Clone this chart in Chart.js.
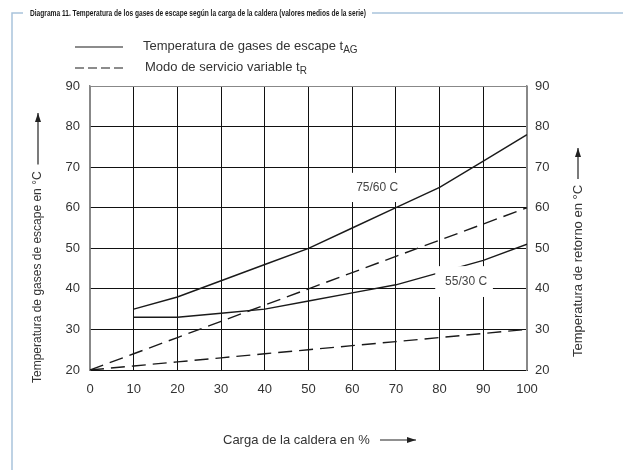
<!DOCTYPE html>
<html>
<head>
<meta charset="utf-8">
<script src="https://cdn.jsdelivr.net/npm/chart.js@4.4.1/dist/chart.umd.min.js"></script>
<style>
  html, body { margin: 0; padding: 0; background: #fff; }
  #wrap { width: 623px; height: 470px; position: relative; }
</style>
</head>
<body>
<div id="wrap"><canvas id="boilerChart"></canvas></div>
<script>
// Carga de la caldera (%)
var loadPct = [0, 10, 20, 30, 40, 50, 60, 70, 80, 90, 100];

// Temperatura de gases de escape tAG (solid)
var tag7560 = [null, 35, 38, 42, 46, 50, 55, 60, 65, 71.5, 78];
var tag5530 = [null, 33, 33, 34, 35, 37, 39, 41, 44, 47, 51];

// Modo de servicio variable tR (dashed)
var tr7560 = [20, 24, 28, 32, 36, 40, 44, 48, 52, 56, 60];
var tr5530 = [20, 21, 22, 23, 24, 25, 26, 27, 28, 29, 30];

// Axis ticks
var xTicks = [0, 10, 20, 30, 40, 50, 60, 70, 80, 90, 100];
var yTicks = [20, 30, 40, 50, 60, 70, 80, 90];

var FONT = '"Liberation Sans", Arial, sans-serif';
var TEXT = '#333';
var FRAME = '#a9c3dc';
var BORDER = '#888';

// Turn value arrays into {x, y} points
function toPoints(values) {
    var pts = [];
    for (var i = 0; i < loadPct.length; i++) {
        if (values[i] !== null) pts.push({ x: loadPct[i], y: values[i] });
    }
    return pts;
}

function lineSet(label, values, dashed) {
    return {
        label: label,
        data: toPoints(values),
        borderColor: '#1a1a1a',
        borderWidth: 1.4,
        borderDash: dashed ? [14, 7] : [],
        pointRadius: 0,
        tension: 0,
        fill: false
    };
}

// Draw a small text with subscript
function textWithSub(ctx, main, sub, x, y) {
    ctx.font = '13px ' + FONT;
    ctx.fillText(main, x, y);
    var w = ctx.measureText(main).width;
    ctx.font = '10px ' + FONT;
    ctx.fillText(sub, x + w, y + 4);
}

// Arrow: line from (x1,y1) to (x2,y2) with head at the end
function arrow(ctx, x1, y1, x2, y2) {
    var ang = Math.atan2(y2 - y1, x2 - x1);
    ctx.beginPath();
    ctx.moveTo(x1, y1);
    ctx.lineTo(x2, y2);
    ctx.stroke();
    ctx.beginPath();
    ctx.moveTo(x2, y2);
    ctx.lineTo(x2 - 9 * Math.cos(ang) + 3 * Math.sin(ang), y2 - 9 * Math.sin(ang) - 3 * Math.cos(ang));
    ctx.lineTo(x2 - 9 * Math.cos(ang) - 3 * Math.sin(ang), y2 - 9 * Math.sin(ang) + 3 * Math.cos(ang));
    ctx.closePath();
    ctx.fill();
}

var decorPlugin = {
    id: 'decor',
    beforeDraw: function (chart) {
        var ctx = chart.ctx;
        ctx.save();
        ctx.fillStyle = '#fff';
        ctx.fillRect(0, 0, chart.width, chart.height);

        // Frame and title
        ctx.strokeStyle = FRAME;
        ctx.lineWidth = 1.5;
        ctx.beginPath();
        ctx.moveTo(12, 470);
        ctx.lineTo(12, 13);
        ctx.lineTo(23, 13);
        ctx.moveTo(372, 13);
        ctx.lineTo(623, 13);
        ctx.stroke();

        ctx.fillStyle = '#1a1a1a';
        ctx.font = 'bold 9.5px "Liberation Sans Narrow", "Liberation Sans", sans-serif';
        ctx.textBaseline = 'middle';
        ctx.textAlign = 'left';
        var title = 'Diagrama 11. Temperatura de los gases de escape según la carga de la caldera (valores medios de la serie)';
        var tw = ctx.measureText(title).width;
        ctx.save();
        ctx.translate(30, 13);
        ctx.scale(336 / tw, 1);
        ctx.fillText(title, 0, 0);
        ctx.restore();

        // Legend
        ctx.strokeStyle = '#1a1a1a';
        ctx.lineWidth = 1.2;
        ctx.beginPath();
        ctx.moveTo(75, 47);
        ctx.lineTo(123, 47);
        ctx.stroke();
        ctx.setLineDash([9, 4]);
        ctx.beginPath();
        ctx.moveTo(75, 68);
        ctx.lineTo(123, 68);
        ctx.stroke();
        ctx.setLineDash([]);
        ctx.fillStyle = TEXT;
        textWithSub(ctx, 'Temperatura de gases de escape t', 'AG', 143, 46);
        textWithSub(ctx, 'Modo de servicio variable t', 'R', 145, 67);

        // Axis titles
        ctx.font = '13px ' + FONT;
        ctx.fillStyle = TEXT;
        ctx.strokeStyle = '#222';
        ctx.lineWidth = 1.2;
        ctx.textAlign = 'left';
        ctx.fillText('Carga de la caldera en %', 223, 440);
        ctx.fillStyle = '#222';
        arrow(ctx, 380, 440, 416, 440);

        ctx.save();
        ctx.translate(38, 383);
        ctx.rotate(-Math.PI / 2);
        ctx.font = '12px ' + FONT;
        ctx.fillStyle = TEXT;
        var leftTitle = 'Temperatura de gases de escape en °C';
        ctx.fillText(leftTitle, 0, 0);
        var lw = ctx.measureText(leftTitle).width;
        ctx.fillStyle = '#222';
        arrow(ctx, lw + 7, 0, 270, 0);
        ctx.restore();

        ctx.save();
        ctx.translate(578, 357);
        ctx.rotate(-Math.PI / 2);
        ctx.font = '13px ' + FONT;
        ctx.fillStyle = TEXT;
        var rightTitle = 'Temperatura de retorno en °C';
        ctx.fillText(rightTitle, 0, 0);
        var rw = ctx.measureText(rightTitle).width;
        ctx.fillStyle = '#222';
        arrow(ctx, rw + 6, 0, 209, 0);
        ctx.restore();

        ctx.restore();
    },
    afterDatasetsDraw: function (chart) {
        var ctx = chart.ctx;
        var xs = chart.scales.x;
        var ys = chart.scales.y;
        var tags = [
            { text: '75/60 C', x0: 58.4, x1: 72.1, y0: 68.6, y1: 61.4 },
            { text: '55/30 C', x0: 79.0, x1: 92.2, y0: 45.6, y1: 38.0 }
        ];
        ctx.save();
        tags.forEach(function (t) {
            var l = xs.getPixelForValue(t.x0), r = xs.getPixelForValue(t.x1);
            var tp = ys.getPixelForValue(t.y0), b = ys.getPixelForValue(t.y1);
            ctx.fillStyle = '#fff';
            ctx.fillRect(l, tp, r - l, b - tp);
            ctx.fillStyle = '#444';
            ctx.font = '12px ' + FONT;
            ctx.textAlign = 'center';
            ctx.textBaseline = 'middle';
            ctx.fillText(t.text, (l + r) / 2 + 2, (tp + b) / 2);
        });
        ctx.restore();
    }
};

var ctx = document.getElementById('boilerChart').getContext('2d');

var myChart = new Chart(ctx, {
    type: 'line',
    data: {
        datasets: [
            lineSet('75/60 tAG', tag7560, false),
            lineSet('55/30 tAG', tag5530, false),
            lineSet('75/60 tR', tr7560, true),
            lineSet('55/30 tR', tr5530, true)
        ]
    },
    options: {
        responsive: true,
        maintainAspectRatio: false,
        animation: false,
        layout: { padding: { left: 0, right: 0, top: 86, bottom: 0 } },
        scales: {
            x: {
                type: 'linear',
                min: 0,
                max: 100,
                afterBuildTicks: function (axis) {
                    axis.ticks = xTicks.map(function (v) { return { value: v }; });
                },
                afterFit: function (axis) { axis.height = 100; },
                grid: {
                    color: function (c) {
                        var v = c.tick && c.tick.value;
                        return (v === 0 || v === 100) ? BORDER : '#111';
                    },
                    lineWidth: 1,
                    drawTicks: false
                },
                border: { color: '#111', width: 1 },
                ticks: { color: TEXT, padding: 12, font: { family: FONT, size: 13 } }
            },
            y: {
                position: 'left',
                min: 20,
                max: 90,
                afterBuildTicks: function (axis) {
                    axis.ticks = yTicks.map(function (v) { return { value: v }; });
                },
                afterFit: function (axis) { axis.width = 90; },
                grid: {
                    color: function (c) {
                        var v = c.tick && c.tick.value;
                        return v === 90 ? BORDER : '#111';
                    },
                    lineWidth: 1,
                    drawTicks: false
                },
                border: { color: BORDER, width: 1.5 },
                ticks: { color: TEXT, padding: 10, font: { family: FONT, size: 13 } }
            },
            y2: {
                position: 'right',
                min: 20,
                max: 90,
                afterBuildTicks: function (axis) {
                    axis.ticks = yTicks.map(function (v) { return { value: v }; });
                },
                afterFit: function (axis) { axis.width = 96; },
                grid: { display: false, drawTicks: false },
                border: { color: BORDER, width: 1.5 },
                ticks: { color: TEXT, padding: 8, font: { family: FONT, size: 13 } }
            }
        },
        plugins: {
            legend: { display: false },
            tooltip: { enabled: false }
        }
    },
    plugins: [decorPlugin]
});
</script>
</body>
</html>
